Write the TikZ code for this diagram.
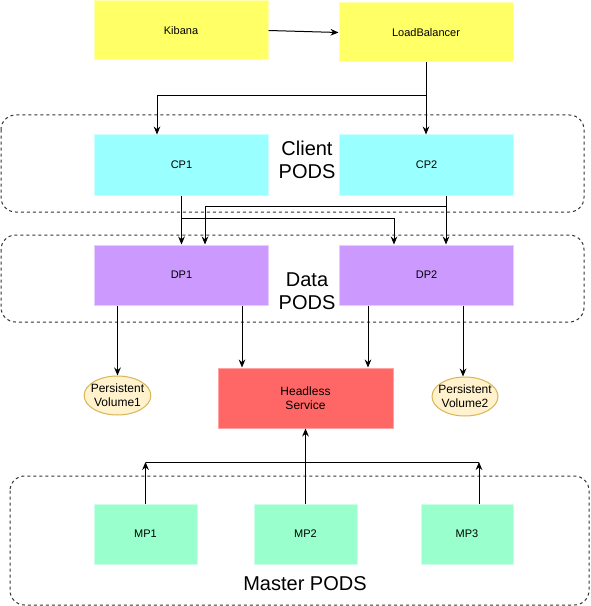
\documentclass[tikz,border=0pt]{standalone}
\usepackage{fontspec}
\setmainfont{Liberation Sans}
\usetikzlibrary{arrows.meta,calc,shapes.geometric}
\definecolor{cyel}{HTML}{FFFF66}
\definecolor{ccyan}{HTML}{99FFFF}
\definecolor{cpurp}{HTML}{CC99FF}
\definecolor{cred}{HTML}{FF6666}
\definecolor{cmint}{HTML}{99FFCC}
\definecolor{cpvfill}{HTML}{FFF2CC}
\definecolor{cpvline}{HTML}{D6B656}
\tikzset{
  box/.style={rectangle, inner sep=0pt, line width=0.75pt, font=\fontsize{8.25}{10}\selectfont, align=center,
     minimum width=130pt, minimum height=45pt},
  pv/.style={ellipse, inner xsep=-6pt, inner ysep=-3pt, fill=cpvfill, draw=cpvline, line width=0.75pt,
     minimum width=50pt, minimum height=29.25pt, align=center, font=\fontsize{9}{10.5}\selectfont},
  group/.style={draw=black!80, dash pattern=on 2.25pt off 2.25pt, line width=0.75pt, rounded corners=11pt},
  grouplabel/.style={align=center, font=\fontsize{15}{17.25}\selectfont},
  arr/.style={draw=black, line width=0.75pt, -{Stealth[length=6pt,width=5pt]}},
  ln/.style={draw=black, line width=0.75pt}
}
\begin{document}
\begin{tikzpicture}[x=0.75pt,y=-0.75pt]
\fill[white] (0,0) rectangle (590,606);
\useasboundingbox (0,0) rectangle (590,606);
% groups
\draw[group] (1,115) rectangle (584,212);
\draw[group] (1,235) rectangle (584,322);
\draw[group] (10,476) rectangle (589,605);
\node[grouplabel] (lclient) at (307,160) {Client\\PODS};
\node[grouplabel] (ldata) at (307,291) {Data\\PODS};
\node[grouplabel] (lmaster) at (305,584) {Master PODS};
% boxes
\node[box, fill=cyel, draw=cyel!50!white, minimum width=130.5pt, minimum height=44.25pt] (kib) at (181,30.5) {Kibana};
\node[box, fill=cyel, draw=cyel!50!white, minimum width=130.5pt, minimum height=44.25pt] (lb) at (426,32.5) {LoadBalancer};
\node[box, fill=ccyan, draw=ccyan!50!white] (cp1) at (181.5,165) {CP1};
\node[box, fill=ccyan, draw=ccyan!50!white] (cp2) at (426.5,165) {CP2};
\node[box, fill=cpurp, draw=cpurp!50!white] (dp1) at (181.5,275) {DP1};
\node[box, fill=cpurp, draw=cpurp!50!white] (dp2) at (426.5,275) {DP2};
\node[box, fill=cred, draw=cred!60!white, font=\fontsize{9}{10.9}\selectfont, minimum width=131.25pt] (hs) at (305.5,398) {Headless\\Service};
\node[pv] (pv1) at (117.5,395.5) {Persistent\\Volume1};
\node[pv, minimum width=49.5pt] (pv2) at (465,396.5) {Persistent\\Volume2};
\node[box, fill=cmint, draw=cmint!50!white, minimum width=77.25pt] (mp1) at (145.5,534) {MP1};
\node[box, fill=cmint, draw=cmint!50!white, minimum width=77.25pt] (mp2) at (305.5,534) {MP2};
\node[box, fill=cmint, draw=cmint!50!white, minimum width=69pt] (mp3) at (467,534) {MP3};
% helper coordinates
\coordinate (j1) at (157,96);
\coordinate (j2) at (394,218);
\coordinate (j4) at (205,206);
\coordinate (c2b) at ($(cp2.south)+(19.5,0)$);
\coordinate (x242) at (242,0);
\coordinate (x368) at (368,0);
\coordinate (x463) at (463,0);
\coordinate (x479) at (479,0);
\coordinate (j5) at (146,462);
% connectors
\draw[arr] (kib.east) -- (lb.west);
\draw[arr] (lb.south) -- (lb.south |- cp2.north);
\draw[arr] (lb.south |- j1) -- (j1) -- (j1 |- cp1.north);
\draw[arr] (cp1.south) -- (dp1.north);
\draw[arr] (cp1.south) |- (j2) -- (j2 |- dp2.north);
\draw[arr] (c2b) -- (c2b |- dp2.north);
\draw[arr] (c2b) |- (j4) -- (j4 |- dp1.north);
\draw[arr] (dp1.south -| pv1.north) -- (pv1.north);
\draw[arr] (dp1.south -| x242) -- (hs.north -| x242);
\draw[arr] (dp2.south -| x368) -- (hs.north -| x368);
\draw[arr] (dp2.south -| x463) -- (pv2.north -| x463);
\draw[arr] (mp2.north) -- (hs.south);
\draw[arr] (mp1.north) -- (mp1.north |- j5);
\draw[arr] (mp3.north -| x479) -- (x479 |- j5);
\draw[ln] (mp1.north |- j5) -- (x479 |- j5);
\end{tikzpicture}
\end{document}
